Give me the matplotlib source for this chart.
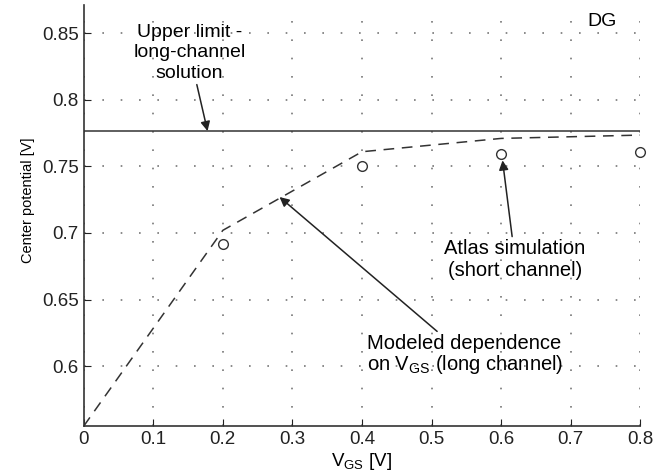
import matplotlib
matplotlib.use('Agg')
import matplotlib.pyplot as plt

plt.rcParams['font.family'] = ['Liberation Sans', 'DejaVu Sans']

# modeled (long channel) dependence, piecewise between computed points
vgs_model = [0.0, 0.2, 0.4, 0.6, 0.8]
psi_model = [0.555, 0.702, 0.761, 0.771, 0.7735]

# Atlas simulation points (short channel)
vgs_sim = [0.2, 0.4, 0.6, 0.8]
psi_sim = [0.692, 0.750, 0.759, 0.7607]

upper_limit = 0.7765

xticks = [0, 0.1, 0.2, 0.3, 0.4, 0.5, 0.6, 0.7, 0.8]
xticklabels = ['0', '0.1', '0.2', '0.3', '0.4', '0.5', '0.6', '0.7', '0.8']
yticks = [0.6, 0.65, 0.7, 0.75, 0.8, 0.85]
yticklabels = ['0.6', '0.65', '0.7', '0.75', '0.8', '0.85']

fig = plt.figure(figsize=(6.54, 4.74), dpi=100)
ax = fig.add_axes([0.128, 0.101, 0.851, 0.888])

ax.axhline(upper_limit, color='#333333', lw=1.1)
ax.plot(vgs_model, psi_model, color='#333333', lw=1.1, dashes=(7, 5))
ax.plot(vgs_sim, psi_sim, 'o', mfc='white', mec='#333333', ms=7, mew=1.0,
        ls='none', clip_on=False, zorder=5)

ax.set_xlim(0, 0.8)
ax.set_ylim(0.555, 0.871)
ax.set_xticks(xticks)
ax.set_xticklabels(xticklabels)
ax.set_yticks(yticks)
ax.set_yticklabels(yticklabels)
ax.tick_params(direction='in', length=5, labelsize=13.5, colors='#222222')
ax.grid(True, ls=(0, (1, 10)), color='#777777', lw=1.2)
for s in ['top', 'right']:
    ax.spines[s].set_visible(False)
for s in ['left', 'bottom']:
    ax.spines[s].set_linewidth(1.2)
    ax.spines[s].set_color('#333333')

ax.set_xlabel('V$_{\\mathregular{GS}}$ [V]', fontsize=13.5, labelpad=2)
ax.set_ylabel('Center potential [V]', fontsize=10.5)
ax.yaxis.set_label_coords(-0.088, 0.537)

arrow = dict(arrowstyle='-|>', color='#222222', lw=1.1, mutation_scale=14,
             shrinkA=0, shrinkB=0)
ax.annotate('Upper limit -\nlong-channel\nsolution', xy=(0.178, upper_limit),
            xytext=(0.152, 0.8135), ha='center', va='bottom', fontsize=14,
            linespacing=1.28, arrowprops=arrow)
ax.annotate('Modeled dependence\non V$_{\\mathregular{GS}}$ (long channel)',
            xy=(0.2815, 0.727), xytext=(0.407, 0.5925), ha='left', va='bottom',
            fontsize=14.5, linespacing=1.0, arrowprops=arrow)
ax.annotate('Atlas simulation\n(short channel)', xy=(0.602, 0.7545),
            xytext=(0.62, 0.665), ha='center', va='bottom', fontsize=14.5,
            linespacing=1.15, arrowprops=arrow)
ax.text(0.745, 0.859, 'DG', fontsize=14, ha='center', va='center')

fig.savefig('out.png', dpi=100, facecolor='white')
